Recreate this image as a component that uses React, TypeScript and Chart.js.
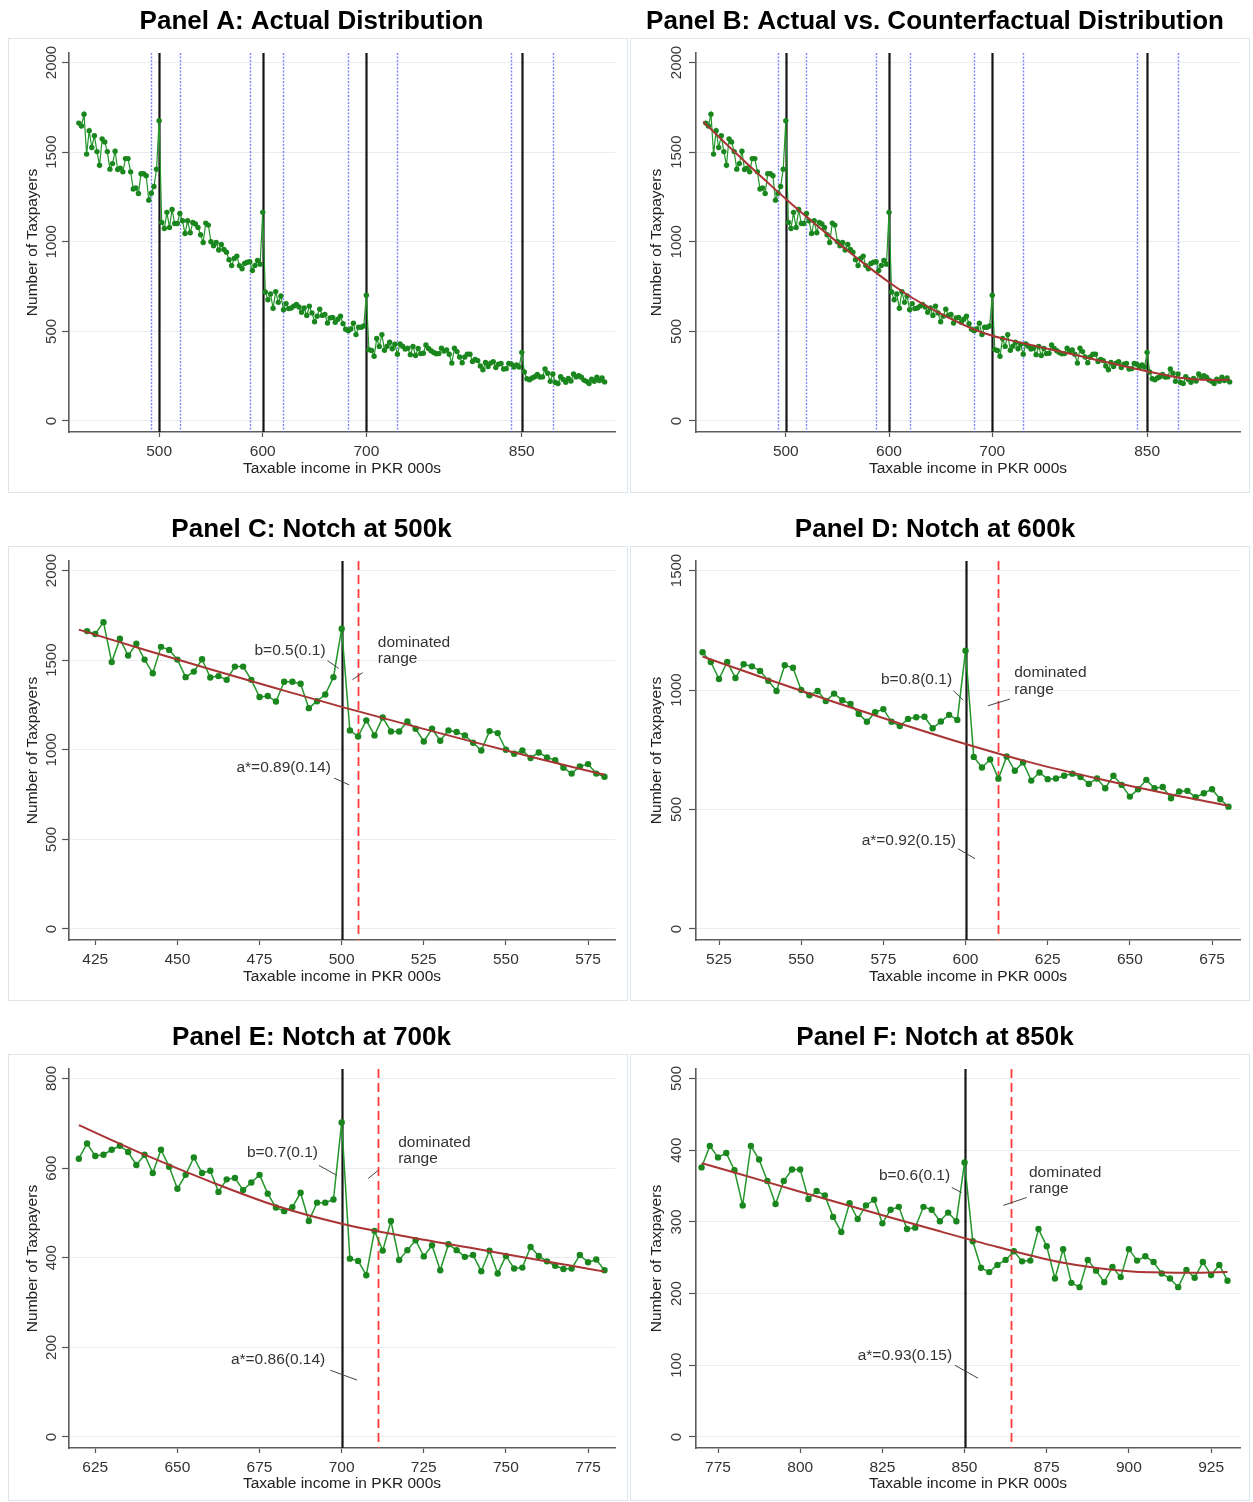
import React, { useEffect, useRef } from 'react';
import { Chart, registerables } from 'chart.js';

Chart.register(...registerables);

const FONT = "'Liberation Sans', Arial, Helvetica, sans-serif";

// Bin midpoints: taxable income in PKR 000s, 2.5k bins
const BIN_START = 422.5;
const BIN_WIDTH = 2.5;

// Number of taxpayers per bin
const COUNTS_422_580 = [
  1662, 1646, 1712, 1489, 1619, 1526, 1591, 1503, 1427, 1574, 1557, 1503, 1405, 1436, 1505, 1403,
  1411, 1390, 1464, 1464, 1390, 1294, 1300, 1269, 1379, 1379, 1368, 1232, 1271, 1308, 1405, 1675,
  1108, 1074, 1164, 1080, 1180, 1102, 1102, 1158, 1117, 1046, 1117, 1050, 1108, 1099, 1080, 1039,
  996, 1104, 1093, 1000, 978, 996, 954, 985, 957, 942, 900, 867, 907, 920, 867, 849,
];
const COUNTS_582_680 = [
  879, 886, 888, 840, 868, 896, 875, 1164, 720, 676, 709, 629, 722, 662, 697, 621, 655, 627, 630, 641,
  650, 636, 607, 630, 589, 641, 603, 554, 585, 624, 589, 594, 547, 575, 578, 551, 568, 585, 543, 512,
];
const COUNTS_682_780 = [
  504, 513, 545, 482, 523, 523, 530, 702, 398, 393, 361, 460, 416, 482, 395, 417, 439, 403, 428, 372,
  430, 417, 402, 406, 370, 416, 365, 404, 376, 378, 424, 404, 392, 382, 375, 376, 406, 390, 396, 372,
];
const COUNTS_782_930 = [
  323, 406, 387, 357, 325, 357, 373, 373, 332, 343, 337, 307, 286, 326, 304, 323, 331, 298, 317, 321,
  290, 292, 321, 317, 301, 313, 301, 383, 273, 236, 230, 240, 247, 259, 245, 246, 290, 266, 221, 262,
  215, 209, 247, 232, 216, 237, 223, 262, 246, 252, 244, 228, 221, 209, 233, 222, 244, 226, 240, 218,
];
const COUNTS = [...COUNTS_422_580, ...COUNTS_582_680, ...COUNTS_682_780, ...COUNTS_782_930];
const INCOME = COUNTS.map((_, i) => BIN_START + BIN_WIDTH * i);

// Counterfactual distribution (smooth fit), read at these incomes
const CF_X = [420, 440, 460, 480, 500, 520, 540, 560, 580, 600, 620, 640, 660, 680, 700, 720, 740, 760, 770, 780, 800, 820, 840, 860, 880, 900, 915, 930];
const CF_Y = [1670, 1558, 1449, 1343, 1239, 1140, 1044, 950, 860, 774, 696, 630, 570, 516, 476, 447, 421, 395, 382, 369, 342, 316, 290, 265, 243, 231, 229, 230];

// Vertical markers
const NOTCHES = [500, 600, 700, 850];
const EXCLUDED_BOUNDS = [492.5, 520, 587.5, 620, 682.5, 730, 840, 880];

// Tick labels
const X_TICKS_FULL = [500, 600, 700, 850];
const X_TICKS_C = [425, 450, 475, 500, 525, 550, 575];
const X_TICKS_D = [525, 550, 575, 600, 625, 650, 675];
const X_TICKS_E = [625, 650, 675, 700, 725, 750, 775];
const X_TICKS_F = [775, 800, 825, 850, 875, 900, 925];
const Y_TICKS_2000 = [0, 500, 1000, 1500, 2000];
const Y_TICKS_1500 = [0, 500, 1000, 1500];
const Y_TICKS_800 = [0, 200, 400, 600, 800];
const Y_TICKS_500 = [0, 100, 200, 300, 400, 500];

type Note = { lines: string[]; align: 'left' | 'right'; x: number; y: number; leader: number[] };
type PanelCfg = {
  key: string;
  title: string;
  side: 'L' | 'R';
  top: number;
  height: number;
  boxBottom: number;
  xMin: number;
  xMax: number;
  xTicks: number[];
  yTicks: number[];
  lo: number;
  hi: number;
  showCF: boolean;
  blue: number[];
  black: number[];
  red: number[];
  notes: Note[];
  pointRadius: number;
  lineWidth: number;
};

const PANELS: PanelCfg[] = [
  {
    key: 'A', title: 'Panel A: Actual Distribution', side: 'L', top: 0, height: 500, boxBottom: 492,
    xMin: 413, xMax: 940, xTicks: X_TICKS_FULL, yTicks: Y_TICKS_2000, lo: 420, hi: 930, showCF: false,
    blue: EXCLUDED_BOUNDS, black: NOTCHES, red: [], notes: [], pointRadius: 2.7, lineWidth: 1.2,
  },
  {
    key: 'B', title: 'Panel B: Actual vs. Counterfactual Distribution', side: 'R', top: 0, height: 500, boxBottom: 492,
    xMin: 413, xMax: 940, xTicks: X_TICKS_FULL, yTicks: Y_TICKS_2000, lo: 420, hi: 930, showCF: true,
    blue: EXCLUDED_BOUNDS, black: NOTCHES, red: [], notes: [], pointRadius: 2.7, lineWidth: 1.2,
  },
  {
    key: 'C', title: 'Panel C: Notch at 500k', side: 'L', top: 508, height: 500, boxBottom: 492,
    xMin: 417, xMax: 583.2, xTicks: X_TICKS_C, yTicks: Y_TICKS_2000, lo: 420, hi: 580, showCF: true,
    blue: [], black: [500], red: [505], pointRadius: 3.2, lineWidth: 1.5,
    notes: [
      { lines: ['b=0.5(0.1)'], align: 'right', x: 495.1, y: 1553, leader: [495.7, 1497, 499.1, 1453] },
      { lines: ['dominated', 'range'], align: 'left', x: 511, y: 1598, leader: [503.3, 1391, 506.4, 1430] },
      { lines: ['a*=0.89(0.14)'], align: 'right', x: 496.7, y: 899, leader: [497.7, 842, 502.3, 804] },
    ],
  },
  {
    key: 'D', title: 'Panel D: Notch at 600k', side: 'R', top: 508, height: 500, boxBottom: 492,
    xMin: 518, xMax: 683.5, xTicks: X_TICKS_D, yTicks: Y_TICKS_1500, lo: 520, hi: 680, showCF: true,
    blue: [], black: [600], red: [610], pointRadius: 3.2, lineWidth: 1.5,
    notes: [
      { lines: ['b=0.8(0.1)'], align: 'right', x: 595.9, y: 1042, leader: [596.3, 997, 599.3, 958] },
      { lines: ['dominated', 'range'], align: 'left', x: 614.8, y: 1071, leader: [606.8, 934, 613.5, 962] },
      { lines: ['a*=0.92(0.15)'], align: 'right', x: 597.1, y: 369, leader: [597.7, 336, 602.9, 294] },
    ],
  },
  {
    key: 'E', title: 'Panel E: Notch at 700k', side: 'L', top: 1016, height: 486, boxBottom: 484,
    xMin: 617, xMax: 783.2, xTicks: X_TICKS_E, yTicks: Y_TICKS_800, lo: 620, hi: 780, showCF: true,
    blue: [], black: [700], red: [711], pointRadius: 3.2, lineWidth: 1.5,
    notes: [
      { lines: ['b=0.7(0.1)'], align: 'right', x: 692.8, y: 635, leader: [693.1, 606, 698.5, 584] },
      { lines: ['dominated', 'range'], align: 'left', x: 717.2, y: 657, leader: [708.1, 577, 711.1, 595] },
      { lines: ['a*=0.86(0.14)'], align: 'right', x: 695, y: 172, leader: [696.5, 149, 704.7, 127] },
    ],
  },
  {
    key: 'F', title: 'Panel F: Notch at 850k', side: 'R', top: 1016, height: 486, boxBottom: 484,
    xMin: 768.3, xMax: 933.8, xTicks: X_TICKS_F, yTicks: Y_TICKS_500, lo: 770, hi: 930, showCF: true,
    blue: [], black: [850], red: [864], pointRadius: 3.2, lineWidth: 1.5,
    notes: [
      { lines: ['b=0.6(0.1)'], align: 'right', x: 845.6, y: 364, leader: [846.1, 348, 849.1, 341] },
      { lines: ['dominated', 'range'], align: 'left', x: 869.6, y: 369, leader: [861.8, 323, 868.9, 334] },
      { lines: ['a*=0.93(0.15)'], align: 'right', x: 846.2, y: 113, leader: [847.1, 100, 854.1, 82] },
    ],
  },
];

const CANVAS_W = 622;

const decorPlugin = {
  id: 'panelDecor',
  beforeDraw(chart: any, _args: any, opts: any) {
    const { ctx, width } = chart;
    ctx.save();
    ctx.fillStyle = '#ffffff';
    ctx.fillRect(0, 0, width, chart.height);
    ctx.strokeStyle = '#dde4ea';
    ctx.lineWidth = 1;
    ctx.strokeRect(0.5, 38.5, width - 3, opts.boxBottom - 38);
    ctx.restore();
  },
  beforeDatasetsDraw(chart: any, _args: any, opts: any) {
    const { ctx, chartArea: ca } = chart;
    const xs = chart.scales.x;
    const vline = (v: number, color: string, w: number, dash: number[]) => {
      const px = Math.round(xs.getPixelForValue(v)) + 0.5;
      ctx.save();
      ctx.beginPath();
      ctx.strokeStyle = color;
      ctx.lineWidth = w;
      ctx.setLineDash(dash);
      ctx.moveTo(px, ca.top);
      ctx.lineTo(px, ca.bottom);
      ctx.stroke();
      ctx.restore();
    };
    opts.blue.forEach((v: number) => vline(v, 'rgba(90,90,255,0.75)', 1.4, [2, 1.5]));
    opts.black.forEach((v: number) => vline(v, '#151515', 2.2, []));
    opts.red.forEach((v: number) => vline(v, '#ff3a3a', 1.8, [9, 5]));
  },
  afterDraw(chart: any, _args: any, opts: any) {
    const { ctx, chartArea: ca } = chart;
    const xs = chart.scales.x;
    const ys = chart.scales.y;
    ctx.save();
    // rotated y tick labels
    ctx.font = `15px ${FONT}`;
    ctx.fillStyle = '#383838';
    ctx.textAlign = 'center';
    ctx.textBaseline = 'middle';
    opts.yTicks.forEach((v: number) => {
      const py = ys.getPixelForValue(v);
      ctx.save();
      ctx.translate(ca.left - opts.yLabelOffset, py);
      ctx.rotate(-Math.PI / 2);
      ctx.fillText(String(v), 0, 0);
      ctx.restore();
    });
    // annotations
    ctx.font = `15.5px ${FONT}`;
    ctx.fillStyle = '#333';
    ctx.strokeStyle = '#444';
    ctx.lineWidth = 1;
    opts.notes.forEach((n: Note) => {
      const px = xs.getPixelForValue(n.x);
      const py = ys.getPixelForValue(n.y);
      ctx.textAlign = n.align;
      n.lines.forEach((line, i) => ctx.fillText(line, px, py + i * 16.5));
      const [x1, y1, x2, y2] = n.leader;
      ctx.beginPath();
      ctx.moveTo(xs.getPixelForValue(x1), ys.getPixelForValue(y1));
      ctx.lineTo(xs.getPixelForValue(x2), ys.getPixelForValue(y2));
      ctx.stroke();
    });
    ctx.restore();
  },
};

function PanelChart({ cfg }: { cfg: PanelCfg }) {
  const ref = useRef<HTMLCanvasElement>(null);
  useEffect(() => {
    const canvas = ref.current;
    if (!canvas) return;
    const isLeft = cfg.side === 'L';
    const yAxisWidth = isLeft ? 61 : 66;
    const padRight = isLeft ? 15 : 12;
    const plotBottom = 432;
    const xAxisHeight = cfg.height - plotBottom;
    const yTop = cfg.yTicks[cfg.yTicks.length - 1];
    const unit = yTop / 358;
    const yMin = -11 * unit;
    const yMax = yTop + 9.5 * unit;

    const pts = INCOME.map((x, i) => ({ x, y: COUNTS[i] })).filter((p) => p.x >= cfg.lo && p.x <= cfg.hi);
    const cf = CF_X.map((x, i) => ({ x, y: CF_Y[i] })).filter((p) => p.x >= cfg.lo && p.x <= cfg.hi);

    const datasets: any[] = [
      {
        data: pts,
        borderColor: '#23962a',
        backgroundColor: '#1a861e',
        pointBackgroundColor: '#1a861e',
        pointBorderColor: '#1a861e',
        pointBorderWidth: 0,
        pointRadius: cfg.pointRadius,
        borderWidth: cfg.lineWidth,
        tension: 0,
        order: 1,
      },
    ];
    if (cfg.showCF) {
      datasets.push({
        data: cf,
        borderColor: '#a83434',
        borderWidth: 2,
        pointRadius: 0,
        cubicInterpolationMode: 'monotone',
        order: 0,
      });
    }

    const tickFont = { family: FONT, size: 15.5 };
    const chart = new Chart(canvas, {
      type: 'line',
      data: { datasets },
      plugins: [decorPlugin as any],
      options: {
        animation: false,
        responsive: false,
        devicePixelRatio: 1,
        layout: { padding: { left: 0, right: padRight, top: 0, bottom: 0 } },
        plugins: {
          legend: { display: false },
          tooltip: { enabled: false },
          title: {
            display: true,
            text: cfg.title,
            color: '#000',
            font: { family: FONT, size: 26, weight: 'bold' },
            padding: { top: 6, bottom: 15.8 },
          },
          panelDecor: {
            boxBottom: cfg.boxBottom,
            blue: cfg.blue,
            black: cfg.black,
            red: cfg.red,
            notes: cfg.notes,
            yTicks: cfg.yTicks,
            yLabelOffset: isLeft ? 17 : 19,
          },
        } as any,
        scales: {
          x: {
            type: 'linear',
            position: 'bottom',
            min: cfg.xMin,
            max: cfg.xMax,
            afterBuildTicks: (s: any) => {
              s.ticks = cfg.xTicks.map((v) => ({ value: v }));
            },
            afterFit: (s: any) => {
              s.height = xAxisHeight;
            },
            grid: { drawOnChartArea: false, tickLength: 5, color: '#555', tickColor: '#555', tickWidth: 1.2 },
            border: { color: '#5c5c5c', width: 1.6 },
            ticks: {
              font: tickFont,
              color: '#333',
              padding: 5.2,
              autoSkip: false,
              maxRotation: 0,
              minRotation: 0,
              callback: (v: any) => String(v),
            },
            title: {
              display: true,
              text: 'Taxable income in PKR 000s',
              color: '#222',
              font: tickFont,
              padding: { top: 0, bottom: cfg.height === 500 ? 22.2 : 9.4 },
            },
          },
          y: {
            type: 'linear',
            position: 'left',
            min: yMin,
            max: yMax,
            afterBuildTicks: (s: any) => {
              s.ticks = cfg.yTicks.map((v) => ({ value: v }));
            },
            afterFit: (s: any) => {
              s.width = yAxisWidth;
            },
            grid: { color: '#e9edf0', lineWidth: 1, tickLength: 7, tickColor: '#555', tickWidth: 1.2 },
            border: { color: '#5c5c5c', width: 1.6 },
            ticks: { display: false },
            title: {
              display: true,
              text: 'Number of Taxpayers',
              color: '#222',
              font: tickFont,
              padding: { top: isLeft ? 15.7 : 17.7, bottom: 0 },
            },
          },
        },
      } as any,
    });
    return () => chart.destroy();
  }, [cfg]);

  return (
    <canvas
      ref={ref}
      width={CANVAS_W}
      height={cfg.height}
      style={{
        position: 'absolute',
        left: cfg.side === 'L' ? 8 : 630,
        top: cfg.top,
        width: CANVAS_W,
        height: cfg.height,
      }}
    />
  );
}

export default function App() {
  return (
    <div style={{ position: 'absolute', left: 0, top: 0, width: 1253, height: 1502, background: '#fff' }}>
      {PANELS.map((p) => (
        <PanelChart key={p.key} cfg={p} />
      ))}
    </div>
  );
}
